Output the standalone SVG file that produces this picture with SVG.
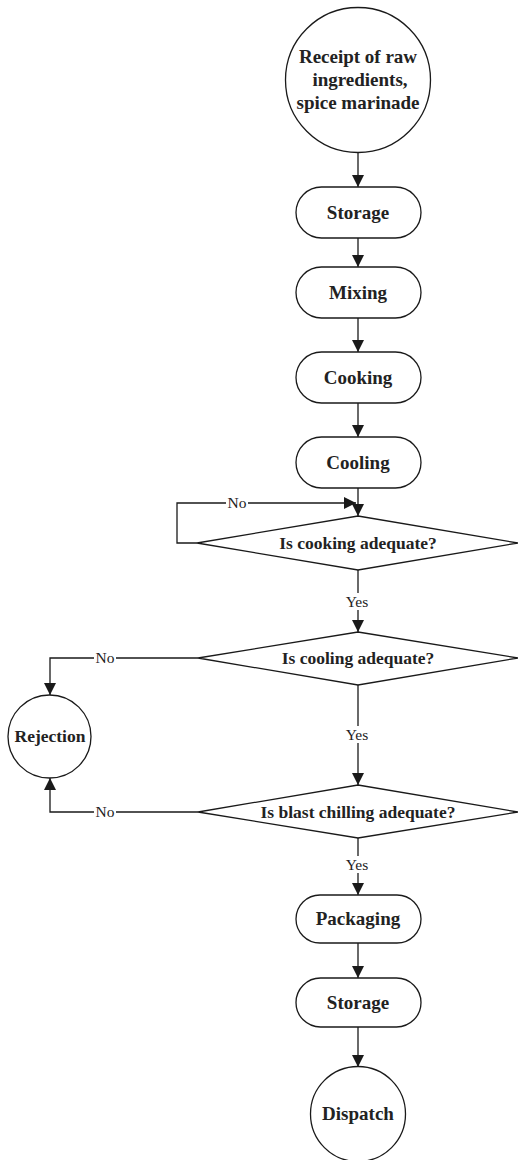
<svg xmlns="http://www.w3.org/2000/svg" width="518" height="1160" viewBox="0 0 518 1160">
<defs>
<marker id="arr" viewBox="0 0 12 12" refX="12" refY="6" markerWidth="12" markerHeight="12" markerUnits="userSpaceOnUse" orient="auto">
<path d="M0,0 L12,6 L0,12 Z" fill="#1a1a1a"/>
</marker>
</defs>
<style>
.shape{fill:#fff;stroke:#1a1a1a;stroke-width:1.3}
.line{fill:none;stroke:#1a1a1a;stroke-width:1.3}
.t{font-family:"Liberation Serif","Times New Roman",serif;font-weight:bold;font-size:19px;fill:#222;text-anchor:middle}
.d{font-family:"Liberation Serif","Times New Roman",serif;font-weight:bold;font-size:17.5px;fill:#222;text-anchor:middle}
.l{font-family:"Liberation Serif","Times New Roman",serif;font-size:15.5px;fill:#222;text-anchor:middle}
.bg{fill:#fff;stroke:none}
</style>
<rect width="518" height="1160" fill="#fff"/>
<g id="connectors">
<line class="line" x1="358" y1="153" x2="358" y2="187" marker-end="url(#arr)"/>
<line class="line" x1="358" y1="238" x2="358" y2="267" marker-end="url(#arr)"/>
<line class="line" x1="358" y1="318" x2="358" y2="352" marker-end="url(#arr)"/>
<line class="line" x1="358" y1="403" x2="358" y2="437" marker-end="url(#arr)"/>
<line class="line" x1="358" y1="488" x2="358" y2="516" marker-end="url(#arr)"/>
<polyline class="line" points="197,543 177,543 177,503 356,503" marker-end="url(#arr)"/>
<rect class="bg" x="226" y="494" width="22" height="16"/>
<text class="l" x="237" y="508">No</text>
<line class="line" x1="358" y1="570" x2="358" y2="632" marker-end="url(#arr)"/>
<rect class="bg" x="344" y="593" width="28" height="17"/>
<text class="l" x="357" y="607">Yes</text>
<polyline class="line" points="198,658 50,658 50,695" marker-end="url(#arr)"/>
<rect class="bg" x="94" y="649" width="22" height="16"/>
<text class="l" x="105" y="663">No</text>
<line class="line" x1="358" y1="685" x2="358" y2="785" marker-end="url(#arr)"/>
<rect class="bg" x="344" y="726" width="28" height="17"/>
<text class="l" x="357" y="740">Yes</text>
<polyline class="line" points="198,812 50,812 50,778" marker-end="url(#arr)"/>
<rect class="bg" x="94" y="803" width="22" height="16"/>
<text class="l" x="105" y="817">No</text>
<line class="line" x1="358" y1="838" x2="358" y2="895" marker-end="url(#arr)"/>
<rect class="bg" x="344" y="856" width="28" height="17"/>
<text class="l" x="357" y="870">Yes</text>
<line class="line" x1="358" y1="943" x2="358" y2="978" marker-end="url(#arr)"/>
<line class="line" x1="358" y1="1027" x2="358" y2="1067" marker-end="url(#arr)"/>
</g>
<g id="receipt">
<circle class="shape" cx="358" cy="80" r="72.5"/>
<text class="t" x="358" y="63">Receipt of raw</text>
<text class="t" x="360" y="86">ingredients,</text>
<text class="t" x="358" y="109">spice marinade</text>
</g>
<g id="storage1">
<rect class="shape" x="296" y="187" width="125" height="51" rx="25.5"/>
<text class="t" x="358" y="219">Storage</text>
</g>
<g id="mixing">
<rect class="shape" x="296" y="267" width="125" height="51" rx="25.5"/>
<text class="t" x="358" y="299">Mixing</text>
</g>
<g id="cooking">
<rect class="shape" x="296" y="352" width="125" height="51" rx="25.5"/>
<text class="t" x="358" y="384">Cooking</text>
</g>
<g id="cooling">
<rect class="shape" x="296" y="437" width="125" height="51" rx="25.5"/>
<text class="t" x="358" y="469">Cooling</text>
</g>
<g id="q-cooking">
<polygon class="shape" points="358,516 518,543 358,570 197,543"/>
<text class="d" x="358" y="549">Is cooking adequate?</text>
</g>
<g id="q-cooling">
<polygon class="shape" points="358,632 518,658 358,685 198,658"/>
<text class="d" x="358" y="664">Is cooling adequate?</text>
</g>
<g id="q-blast">
<polygon class="shape" points="358,785 518,812 358,838 198,812"/>
<text class="d" x="358" y="818">Is blast chilling adequate?</text>
</g>
<g id="rejection">
<circle class="shape" cx="49.5" cy="736.5" r="41.5"/>
<text class="d" x="50" y="742">Rejection</text>
</g>
<g id="packaging">
<rect class="shape" x="296" y="895" width="125" height="48" rx="24"/>
<text class="t" x="358" y="925">Packaging</text>
</g>
<g id="storage2">
<rect class="shape" x="296" y="978" width="125" height="49" rx="24.5"/>
<text class="t" x="358" y="1009">Storage</text>
</g>
<g id="dispatch">
<circle class="shape" cx="358" cy="1114" r="47.5"/>
<text class="t" x="358" y="1120">Dispatch</text>
</g>
</svg>
